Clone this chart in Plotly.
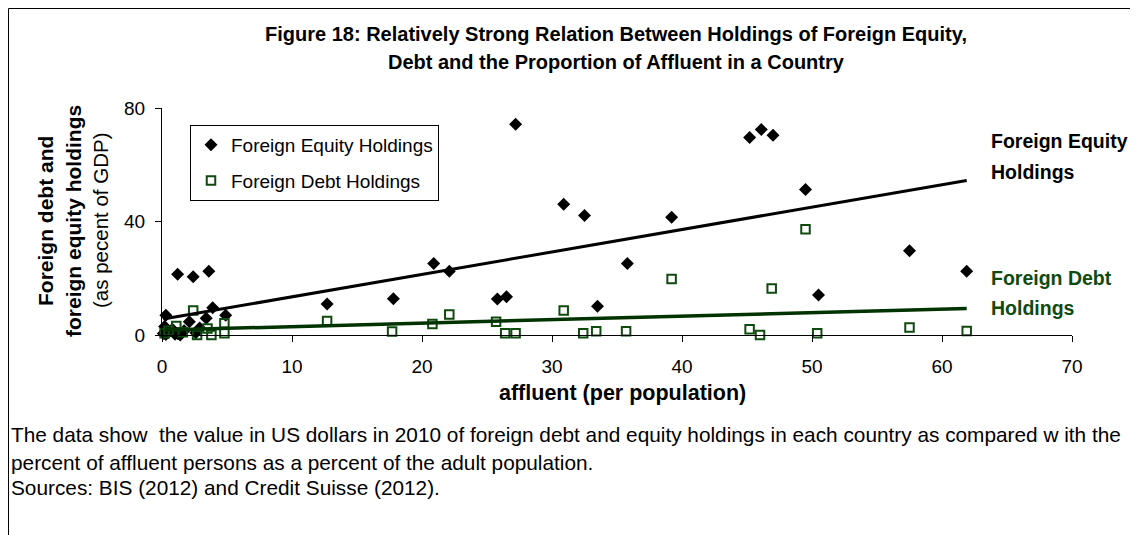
import numpy as np
import plotly.graph_objects as go

# Foreign equity holdings (% of GDP) vs affluent (per population)
equity_x = [0.3, 1.2, 2.4, 3.6, 3.9, 4.9, 2.1, 3.4, 1.4, 2.9, 0.2, 0.1, 0.5, 0.8, 1.0,
            1.7, 2.6, 0.3, 1.2, 12.7, 17.8, 20.9, 22.1, 27.2, 30.9, 32.5, 39.2, 35.8,
            25.8, 26.5, 33.5, 45.2, 46.1, 47.0, 49.5, 57.5, 61.9, 50.5]
equity_y = [7.0, 21.4, 20.5, 22.5, 9.6, 7.0, 4.7, 5.9, 0.0, 2.5, 3.0, 0.5, 1.0, 2.0, 0.3,
            1.5, 0.8, 0.2, 0.5, 10.9, 12.8, 25.2, 22.5, 74.3, 46.1, 42.1, 41.5, 25.2,
            12.7, 13.5, 10.1, 69.6, 72.4, 70.4, 51.3, 29.7, 22.5, 14.1]

# Foreign debt holdings (% of GDP)
debt_x = [0.2, 1.1, 2.4, 4.8, 4.8, 3.8, 2.7, 3.5, 0.5, 1.6, 12.7, 17.7, 20.8, 22.1,
          25.7, 26.4, 27.2, 30.9, 32.4, 33.4, 35.7, 39.2, 49.5, 46.9, 45.2, 46.0,
          50.4, 57.5, 61.9]
debt_y = [0.6, 3.2, 8.6, 4.1, 0.6, 0.0, 0.0, 2.3, 1.5, 1.0, 4.9, 1.2, 3.9, 7.2,
          4.7, 0.6, 0.6, 8.6, 0.6, 1.3, 1.3, 19.7, 37.3, 16.4, 2.0, 0.0,
          0.6, 2.6, 1.4]

x_ticks = [0, 10, 20, 30, 40, 50, 60, 70]
y_ticks = [0, 40, 80]

title_lines = ["Figure 18: Relatively Strong Relation Between Holdings of Foreign Equity,",
               "Debt and the Proportion of Affluent in a Country"]
ytitle_lines = ["<b>Foreign debt and</b>", "<b>foreign equity holdings</b>", "(as pecent of GDP)"]
caption_lines = ["The data show  the value in US dollars in 2010 of foreign debt and equity holdings in each country as compared w ith the",
                 "percent of affluent persons as a percent of the adult population.",
                 "Sources: BIS (2012) and Credit Suisse (2012)."]

FONT = "Liberation Sans, Arial, sans-serif"
DARK_GREEN = "#0f4a0f"

W, H = 1130, 527
L, R, T, B = 154, 66, 100, 200
PW, PH = W - L - R, H - T - B


def px(xp):
    return (xp - L) / PW


def py(yp):
    return (H - B - yp) / PH


def trend(xs, ys):
    xs = np.asarray(xs, float)
    ys = np.asarray(ys, float)
    b, a = np.polyfit(xs, ys, 1)
    xx = np.array([xs.min(), xs.max()])
    return xx, a + b * xx


fig = go.Figure()

fig.add_trace(go.Scatter(
    x=equity_x, y=equity_y, mode="markers", name="Foreign Equity Holdings",
    legendgroup="eq", marker=dict(symbol="diamond", size=10, color="black"),
    cliponaxis=False))
fig.add_trace(go.Scatter(
    x=debt_x, y=debt_y, mode="markers", name="Foreign Debt Holdings",
    legendgroup="debt",
    marker=dict(symbol="square-open", size=8.5, color=DARK_GREEN, line=dict(width=2)),
    cliponaxis=False))

ex, ey = trend(equity_x, equity_y)
fig.add_trace(go.Scatter(x=ex, y=ey, mode="lines", showlegend=False,
                         line=dict(color="black", width=3), hoverinfo="skip"))
dx, dy = trend(debt_x, debt_y)
fig.add_trace(go.Scatter(x=dx, y=dy, mode="lines", showlegend=False,
                         line=dict(color="#003300", width=3.5), hoverinfo="skip"))

fig.update_layout(
    width=W, height=H,
    margin=dict(l=L, r=R, t=T, b=B),
    paper_bgcolor="white", plot_bgcolor="white",
    font=dict(family=FONT, size=19, color="black"),
    showlegend=True,
    legend=dict(x=px(182), y=py(117), xanchor="left", yanchor="top",
                bordercolor="black", borderwidth=1, bgcolor="white",
                font=dict(family=FONT, size=19), tracegroupgap=8),
    xaxis=dict(range=[0, 70], tickvals=x_ticks, showgrid=False, zeroline=False,
               showline=True, linecolor="black", linewidth=1,
               ticks="outside", ticklen=6, tickcolor="black",
               tickfont=dict(size=19), ticklabelstandoff=8),
    yaxis=dict(range=[0, 80], tickvals=y_ticks, showgrid=False, zeroline=False,
               showline=True, linecolor="black", linewidth=1,
               ticks="outside", ticklen=6, tickcolor="black",
               tickfont=dict(size=19), ticklabelstandoff=6),
)

# title (two lines)
for txt, yc in zip(title_lines, [25.5, 54]):
    fig.add_annotation(text="<b>%s</b>" % txt, xref="paper", yref="paper",
                       x=px(608), y=py(yc), xanchor="center", yanchor="middle",
                       showarrow=False, font=dict(size=20))

# y-axis title (three rotated lines)
for txt, xc, fs in zip(ytitle_lines, [37, 65, 92], [21, 21, 20.5]):
    fig.add_annotation(text=txt, xref="paper", yref="paper", x=px(xc), y=py(213),
                       xanchor="center", yanchor="middle", textangle=-90,
                       showarrow=False, font=dict(size=fs))

# x-axis title
fig.add_annotation(text="<b>affluent (per population)</b>", xref="paper", yref="paper",
                   x=px(614), y=py(385), xanchor="center", yanchor="middle",
                   showarrow=False, font=dict(size=21.5))

# labels at the right end of the trend lines
for txt, yc, col in [("Foreign Equity", 133, "black"), ("Holdings", 164, "black"),
                     ("Foreign Debt", 270, DARK_GREEN), ("Holdings", 300, DARK_GREEN)]:
    fig.add_annotation(text="<b>%s</b>" % txt, xref="paper", yref="paper",
                       x=px(981), y=py(yc), xanchor="left", yanchor="middle",
                       showarrow=False, font=dict(size=19.5, color=col))

# caption
for txt, yc in zip(caption_lines, [427, 454, 479]):
    fig.add_annotation(text=txt, xref="paper", yref="paper", x=px(1), y=py(yc),
                       xanchor="left", yanchor="middle", showarrow=False,
                       font=dict(size=20.8))

# outer frame (top and left edges)
fig.add_shape(type="line", xref="paper", yref="paper", x0=px(0.5), x1=px(W), y0=py(0.5), y1=py(0.5),
              line=dict(color="black", width=1))
fig.add_shape(type="line", xref="paper", yref="paper", x0=px(0.5), x1=px(0.5), y0=py(H), y1=py(0.5),
              line=dict(color="black", width=1))

fig.write_html("out.html")
